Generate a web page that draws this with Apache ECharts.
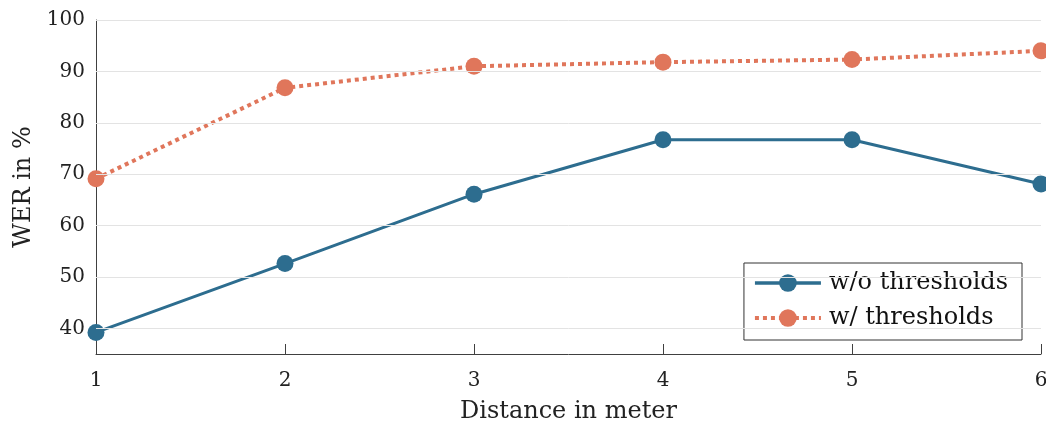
<!DOCTYPE html>
<html><head><meta charset="utf-8">
<script src="https://cdn.jsdelivr.net/npm/echarts@6/dist/echarts.min.js"></script>
<style>html,body{margin:0;padding:0;background:#fff}#c{width:1046px;height:421px}</style>
</head><body><div id="c"></div>
<script>
const distances = [1, 2, 3, 4, 5, 6];
const werWithout = [39.2, 52.6, 66.1, 76.7, 76.7, 68.1];
const werWith = [69.1, 86.8, 91.0, 91.8, 92.3, 94.0];
const yTicks = [40, 50, 60, 70, 80, 90, 100];
const seriesNames = ['w/o thresholds', 'w/ thresholds'];
const xTitle = 'Distance in meter';
const yTitle = 'WER in %';

const FONT = 'DejaVu Serif';
const BLUE = '#2d6d8f';
const ORANGE = '#e0765b';
const AX = '#404040';

const chart = echarts.init(document.getElementById('c'), null, {renderer: 'canvas'});
const pairs = arr => distances.map((d, i) => [d, arr[i]]);

chart.setOption({
  animation: false,
  backgroundColor: '#fff',
  grid: {left: 96, right: 5, top: 20, bottom: 67, outerBoundsMode: 'none', containLabel: false},
  xAxis: {
    type: 'value', min: 1, max: 6, interval: 1,
    name: xTitle, nameLocation: 'middle', nameGap: 46,
    nameTextStyle: {fontFamily: FONT, fontSize: 24, color: '#222'},
    axisLine: {lineStyle: {color: AX, width: 1}},
    axisTick: {inside: true, length: 10, lineStyle: {color: AX}},
    axisLabel: {margin: 17, fontFamily: FONT, fontSize: 20, color: '#222'},
    splitLine: {show: false}
  },
  yAxis: {
    type: 'value', min: 35, max: 100,
    name: yTitle, nameLocation: 'middle', nameGap: 58,
    nameTextStyle: {fontFamily: FONT, fontSize: 24, color: '#222'},
    axisLine: {show: true, lineStyle: {color: AX, width: 1}},
    axisTick: {show: true, inside: true, length: 10, lineStyle: {color: AX}, customValues: yTicks},
    axisLabel: {margin: 11, fontFamily: FONT, fontSize: 20, color: '#222', customValues: yTicks},
    splitLine: {show: false}
  },
  legend: {
    data: [
      {name: seriesNames[0], lineStyle: {width: 3.5}},
      {name: seriesNames[1], lineStyle: {width: 4, type: 'dotted'}}
    ],
    orient: 'vertical',
    right: 24, top: 263,
    padding: [8, 14, 10, 9],
    itemWidth: 66, itemHeight: 22, itemGap: 11,
    borderColor: '#333', borderWidth: 1, borderRadius: 0,
    backgroundColor: '#fff',
    textStyle: {fontFamily: FONT, fontSize: 24, color: '#111', padding: [0, 0, 0, 3]}
  },
  series: [
    {
      type: 'line', name: '_grid', data: [], z: 0, silent: true,
      markLine: {
        silent: true, symbol: ['none', 'none'], animation: false,
        label: {show: false},
        lineStyle: {color: '#e3e3e3', width: 1, type: 'solid'},
        emphasis: {disabled: true},
        data: yTicks.map(v => ({yAxis: v}))
      }
    },
    {
      type: 'line', name: seriesNames[0], data: pairs(werWithout), z: 3,
      symbol: 'circle', symbolSize: 17,
      lineStyle: {color: BLUE, width: 3},
      itemStyle: {color: BLUE}
    },
    {
      type: 'line', name: seriesNames[1], data: pairs(werWith), z: 3,
      symbol: 'circle', symbolSize: 17,
      lineStyle: {color: ORANGE, width: 4, type: 'dotted'},
      itemStyle: {color: ORANGE}
    }
  ]
});
</script></body></html>
